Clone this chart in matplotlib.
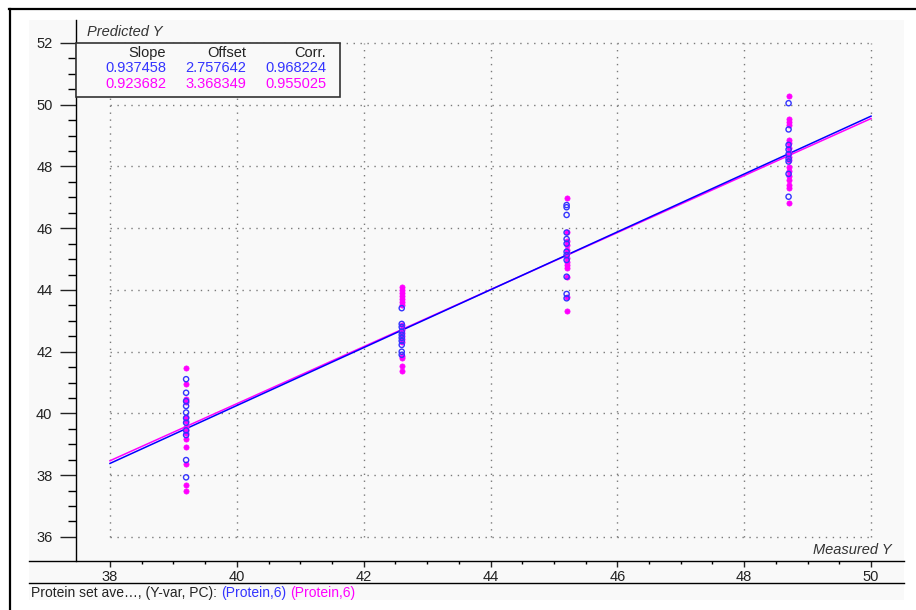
import numpy as np
import matplotlib
matplotlib.use("Agg")
import matplotlib.pyplot as plt
from matplotlib.lines import Line2D
from matplotlib.patches import Rectangle

plt.rcParams['font.family'] = ['Liberation Sans', 'DejaVu Sans']

# measured Y levels (one per sample group)
measured_levels = [39.2, 42.6, 45.2, 48.7]

# predicted Y, first model (blue, open circles)
pred_blue = [
    [41.11, 40.67, 40.40, 40.24, 40.03, 39.85, 39.70, 39.45, 39.30, 38.49, 37.93],
    [43.41, 42.90, 42.80, 42.65, 42.55, 42.45, 42.35, 42.22, 42.00, 41.90],
    [46.75, 46.68, 46.43, 45.86, 45.65, 45.50, 45.24, 45.13, 44.97, 44.43, 43.87, 43.73],
    [50.05, 49.20, 48.70, 48.55, 48.40, 48.25, 48.16, 47.76, 47.02],
]
# predicted Y, second model (magenta, filled)
pred_pink = [
    [41.46, 40.96, 40.46, 40.38, 39.90, 39.77, 39.56, 39.45, 39.38, 39.16, 38.92, 38.36, 37.68, 37.50],
    [44.11, 44.00, 43.90, 43.80, 43.70, 43.60, 43.50, 42.85, 42.70, 42.60, 42.50, 42.40, 42.30,
     41.85, 41.78, 41.55, 41.38],
    [46.97, 45.89, 45.60, 45.45, 45.30, 45.20, 45.05, 44.92, 44.80, 44.70, 44.43, 43.76, 43.32],
    [50.29, 49.53, 49.45, 49.34, 48.86, 48.75, 48.60, 48.45, 48.30, 48.20, 47.99, 47.85, 47.70,
     47.55, 47.40, 47.29, 46.81],
]

slopes = [0.937458, 0.923682]
offsets = [2.757642, 3.368349]
corrs = [0.968224, 0.955025]

x_ticks = [38, 40, 42, 44, 46, 48, 50]
y_ticks = [36, 38, 40, 42, 44, 46, 48, 50, 52]

BLUE = '#3434ff'
PINK = '#ff00ff'
PANEL = '#f9f9f9'
FS = 10.5

W, H = 916, 610


def fx(px):
    return px / W


def fy(py):
    return 1 - py / H


fig = plt.figure(figsize=(W / 100, H / 100), dpi=100)
fig.patch.set_facecolor('white')

# light panel and window frame
fig.add_artist(Rectangle((fx(29), fy(600)), fx(904) - fx(29), fy(20) - fy(600),
                         transform=fig.transFigure, facecolor=PANEL, edgecolor='none', zorder=0))
fig.add_artist(Line2D([fx(10), fx(10)], [fy(9), 0], color='black', lw=1.6))
fig.add_artist(Line2D([fx(9), 1], [fy(9), fy(9)], color='black', lw=1.6))
fig.add_artist(Line2D([fx(29), fx(904)], [fy(561), fy(561)], color='black', lw=1))
fig.add_artist(Line2D([fx(29), fx(904)], [fy(583), fy(583)], color='black', lw=1))

ax = fig.add_axes([fx(76), fy(561), fx(904) - fx(76), fy(20) - fy(561)])
ax.set_facecolor('none')
ax.set_xlim(37.464, 50.52)
ax.set_ylim(35.22, 52.745)

for s in ['top', 'right', 'bottom']:
    ax.spines[s].set_visible(False)
ax.spines['left'].set_linewidth(1)

ax.set_xticks(x_ticks)
ax.set_yticks(y_ticks)
ax.set_xticks([v for v in np.arange(38, 50.01, 0.5) if v not in x_ticks], minor=True)
ax.set_yticks([v for v in np.arange(36, 52.01, 0.5) if v not in y_ticks], minor=True)
ax.tick_params(axis='y', which='major', direction='out', length=11.5, width=1, pad=5.5,
               labelsize=FS, colors='#222222')
ax.tick_params(axis='y', which='minor', direction='out', length=5.8, width=1)
ax.tick_params(axis='x', which='major', direction='out', length=4.3, width=1, pad=2.5,
               labelsize=FS, colors='#222222')
ax.tick_params(axis='x', which='minor', direction='out', length=2.2, width=1)

# dotted grid limited to the data range
ax.hlines(y_ticks, x_ticks[0], x_ticks[-1], colors='#7a7a7a', linestyles=(0, (1, 4)), lw=1, zorder=1)
ax.vlines(x_ticks, y_ticks[0], y_ticks[-1], colors='#7a7a7a', linestyles=(0, (1, 4)), lw=1, zorder=1)

# regression lines
xl = np.array([x_ticks[0], x_ticks[-1]])
ax.plot(xl, slopes[1] * xl + offsets[1], color=PINK, lw=1.1, zorder=3)
ax.plot(xl, slopes[0] * xl + offsets[0], color='#0000ff', lw=1.1, zorder=3)

# points
for lvl, pb, pp in zip(measured_levels, pred_blue, pred_pink):
    ax.scatter([lvl] * len(pp), pp, s=14, color=PINK, edgecolors=PINK, linewidths=0.5, zorder=4)
    ax.scatter([lvl] * len(pb), pb, s=14, facecolors='none', edgecolors=BLUE, linewidths=1.0, zorder=5)

# statistics box
fig.add_artist(Rectangle((fx(76), fy(97)), fx(340) - fx(76), fy(43) - fy(97),
                         transform=fig.transFigure, facecolor=PANEL, edgecolor='#333333',
                         lw=1.2, zorder=6))
col_right = [166, 246, 326]
for cx, head in zip(col_right, ['Slope', 'Offset', 'Corr.']):
    fig.text(fx(cx), fy(53), head, ha='right', va='center', fontsize=FS, color='#222222', zorder=7)
for row, (color, vals) in enumerate([(BLUE, (slopes[0], offsets[0], corrs[0])),
                                      (PINK, (slopes[1], offsets[1], corrs[1]))]):
    for cx, v in zip(col_right, vals):
        fig.text(fx(cx), fy(68.5 + row * 15.5), f'{v:.6f}', ha='right', va='center',
                 fontsize=FS, color=color, zorder=7)

fig.text(fx(87), fy(32), 'Predicted Y', style='italic', fontsize=FS, va='center', color='#333333')
fig.text(fx(892), fy(550), 'Measured Y', style='italic', fontsize=FS, va='center', ha='right',
         color='#333333')

# status line
t1 = fig.text(fx(31), fy(593), 'Protein set ave…, (Y-var, PC):', fontsize=10, va='center',
              color='#222222')
t2 = ax.annotate('(Protein,6)', xy=(1, 0), xycoords=t1, xytext=(3, 0), textcoords='offset points',
                 fontsize=10, color=BLUE, va='bottom', annotation_clip=False)
ax.annotate('(Protein,6)', xy=(1, 0), xycoords=t2, xytext=(3, 0), textcoords='offset points',
            fontsize=10, color=PINK, va='bottom', annotation_clip=False)

fig.savefig('out.png', dpi=100)
